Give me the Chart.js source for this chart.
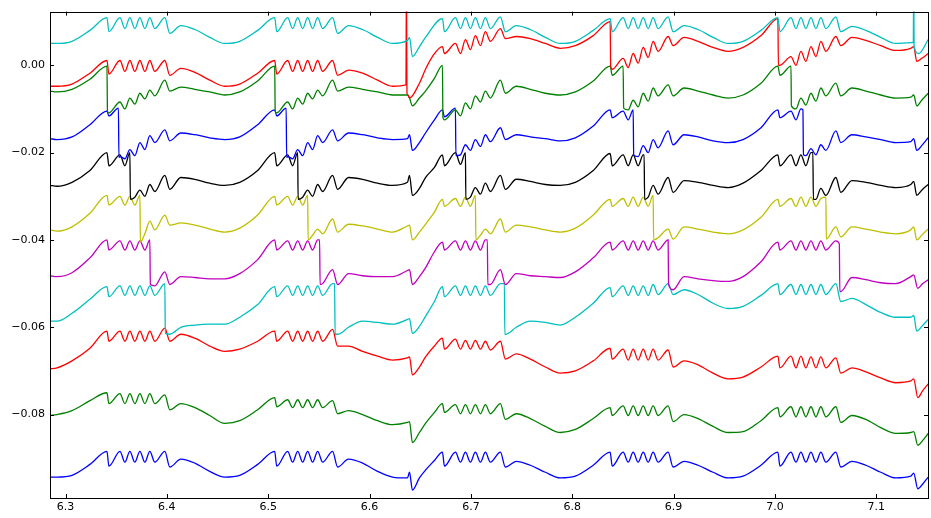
<!DOCTYPE html>
<html>
<head>
<meta charset="utf-8">
<script src="https://cdn.jsdelivr.net/npm/chart.js@4"></script>
<style>
  body { margin: 0; background: #fff; }
  canvas { display: block; }
</style>
</head>
<body>
<canvas id="chart" width="931" height="518"></canvas>
<script>
// tick labels
const xTicks = [6.3, 6.4, 6.5, 6.6, 6.7, 6.8, 6.9, 7.0, 7.1];
const yTicks = [0, -0.02, -0.04, -0.06, -0.08];

// shared sample times (same burst timing for every trace)
const xs = [
  6.2847, 6.2916, 6.3064, 6.3241,
  6.3409, 6.3428, 6.3537, 6.3586, 6.3635, 6.3684, 6.3734, 6.3783, 6.3832, 6.3881, 6.3980, 6.4029, 6.4138, 6.4276, 6.4423, 6.4571, 6.4719, 6.4896,
  6.5064, 6.5084, 6.5192, 6.5241, 6.5291, 6.5340, 6.5389, 6.5438, 6.5488, 6.5537, 6.5635, 6.5685, 6.5793, 6.5931, 6.6079, 6.6227, 6.6374, 6.6552,
  6.6719, 6.6739, 6.6847, 6.6897, 6.6946, 6.6995, 6.7044, 6.7094, 6.7143, 6.7192, 6.7291, 6.7340, 6.7448, 6.7586, 6.7734, 6.7882, 6.8030, 6.8207,
  6.8374, 6.8394, 6.8502, 6.8552, 6.8601, 6.8650, 6.8700, 6.8749, 6.8798, 6.8847, 6.8946, 6.8995, 6.9103, 6.9241, 6.9389, 6.9537, 6.9685, 6.9862,
  7.0029, 7.0049, 7.0158, 7.0207, 7.0256, 7.0305, 7.0355, 7.0404, 7.0453, 7.0502, 7.0601, 7.0650, 7.0759, 7.0897, 7.1044, 7.1192, 7.1340, 7.1512
];

// values of each trace at xs (top to bottom)
const cyanA = [
  0.0050, 0.0050, 0.0055, 0.0080,
  0.0109, 0.0077, 0.0109, 0.0084, 0.0109, 0.0084, 0.0109, 0.0084, 0.0109, 0.0084, 0.0109, 0.0073, 0.0091, 0.0082, 0.0064, 0.0050, 0.0055, 0.0080,
  0.0109, 0.0077, 0.0109, 0.0084, 0.0109, 0.0084, 0.0109, 0.0084, 0.0109, 0.0084, 0.0109, 0.0073, 0.0091, 0.0082, 0.0064, 0.0050, 0.0057, 0.0064,
  0.0107, 0.0077, 0.0109, 0.0084, 0.0109, 0.0084, 0.0109, 0.0084, 0.0109, 0.0084, 0.0111, 0.0077, 0.0091, 0.0082, 0.0064, 0.0050, 0.0055, 0.0080,
  0.0107, 0.0077, 0.0109, 0.0084, 0.0109, 0.0084, 0.0109, 0.0084, 0.0109, 0.0084, 0.0111, 0.0077, 0.0091, 0.0082, 0.0064, 0.0050, 0.0055, 0.0080,
  0.0109, 0.0077, 0.0109, 0.0084, 0.0109, 0.0084, 0.0109, 0.0084, 0.0109, 0.0084, 0.0111, 0.0077, 0.0089, 0.0080, 0.0064, 0.0050, 0.0052, 0.0059
];
const redA = [
  -0.0048, -0.0048, -0.0043, -0.0018,
  0.0011, -0.0020, 0.0011, -0.0014, 0.0011, -0.0014, 0.0011, -0.0014, 0.0011, -0.0014, 0.0011, -0.0023, -0.0007, -0.0016, -0.0034, -0.0048, -0.0043, -0.0018,
  0.0011, -0.0020, 0.0011, -0.0014, 0.0011, -0.0014, 0.0011, -0.0014, 0.0011, -0.0014, 0.0011, -0.0023, -0.0011, -0.0018, -0.0034, -0.0048, -0.0066, -0.0009,
  0.0043, 0.0027, 0.0050, 0.0027, 0.0059, 0.0036, 0.0068, 0.0045, 0.0077, 0.0055, 0.0084, 0.0061, 0.0066, 0.0061, 0.0050, 0.0039, 0.0045, 0.0068,
  0.0100, -0.0009, 0.0016, -0.0005, 0.0027, 0.0005, 0.0041, 0.0018, 0.0055, 0.0032, 0.0066, 0.0045, 0.0064, 0.0055, 0.0041, 0.0032, 0.0041, 0.0068,
  0.0107, 0.0000, 0.0020, 0.0000, 0.0032, 0.0009, 0.0043, 0.0020, 0.0055, 0.0032, 0.0066, 0.0045, 0.0064, 0.0057, 0.0045, 0.0034, 0.0039, 0.0027
];
const greenA = [
  -0.0059, -0.0061, -0.0055, -0.0032,
  -0.0002, -0.0109, -0.0084, -0.0100, -0.0075, -0.0089, -0.0064, -0.0077, -0.0057, -0.0070, -0.0034, -0.0059, -0.0050, -0.0055, -0.0061, -0.0068, -0.0061, -0.0036,
  -0.0002, -0.0109, -0.0084, -0.0100, -0.0075, -0.0089, -0.0064, -0.0077, -0.0057, -0.0070, -0.0034, -0.0059, -0.0050, -0.0055, -0.0061, -0.0068, -0.0068, -0.0059,
  0.0000, -0.0125, -0.0102, -0.0116, -0.0086, -0.0100, -0.0070, -0.0084, -0.0059, -0.0075, -0.0034, -0.0064, -0.0048, -0.0055, -0.0064, -0.0068, -0.0061, -0.0036,
  -0.0002, -0.0023, -0.0002, -0.0102, -0.0080, -0.0095, -0.0064, -0.0082, -0.0052, -0.0070, -0.0045, -0.0070, -0.0052, -0.0059, -0.0068, -0.0075, -0.0068, -0.0041,
  -0.0002, -0.0023, -0.0002, -0.0100, -0.0075, -0.0091, -0.0064, -0.0082, -0.0052, -0.0070, -0.0041, -0.0070, -0.0052, -0.0059, -0.0068, -0.0075, -0.0073, -0.0064
];
const blueA = [
  -0.0168, -0.0170, -0.0164, -0.0136,
  -0.0105, -0.0116, -0.0209, -0.0214, -0.0193, -0.0207, -0.0177, -0.0193, -0.0161, -0.0177, -0.0148, -0.0173, -0.0155, -0.0159, -0.0166, -0.0170, -0.0164, -0.0136,
  -0.0102, -0.0116, -0.0209, -0.0214, -0.0193, -0.0207, -0.0177, -0.0193, -0.0161, -0.0177, -0.0148, -0.0173, -0.0155, -0.0159, -0.0166, -0.0170, -0.0168, -0.0155,
  -0.0102, -0.0118, -0.0098, -0.0205, -0.0182, -0.0195, -0.0170, -0.0186, -0.0159, -0.0175, -0.0143, -0.0170, -0.0159, -0.0164, -0.0168, -0.0173, -0.0166, -0.0139,
  -0.0102, -0.0120, -0.0105, -0.0125, -0.0102, -0.0209, -0.0184, -0.0200, -0.0170, -0.0189, -0.0150, -0.0182, -0.0159, -0.0164, -0.0173, -0.0177, -0.0170, -0.0143,
  -0.0102, -0.0120, -0.0105, -0.0125, -0.0100, -0.0207, -0.0191, -0.0205, -0.0182, -0.0195, -0.0150, -0.0177, -0.0159, -0.0164, -0.0170, -0.0177, -0.0175, -0.0166
];
const blackA = [
  -0.0275, -0.0277, -0.0268, -0.0241,
  -0.0200, -0.0230, -0.0205, -0.0230, -0.0200, -0.0302, -0.0286, -0.0300, -0.0273, -0.0289, -0.0252, -0.0284, -0.0257, -0.0261, -0.0270, -0.0275, -0.0268, -0.0241,
  -0.0200, -0.0230, -0.0205, -0.0230, -0.0200, -0.0302, -0.0286, -0.0300, -0.0273, -0.0289, -0.0252, -0.0284, -0.0257, -0.0261, -0.0270, -0.0275, -0.0268, -0.0257,
  -0.0205, -0.0230, -0.0200, -0.0227, -0.0200, -0.0302, -0.0280, -0.0295, -0.0270, -0.0289, -0.0252, -0.0284, -0.0261, -0.0266, -0.0273, -0.0275, -0.0268, -0.0241,
  -0.0202, -0.0230, -0.0205, -0.0230, -0.0205, -0.0230, -0.0205, -0.0302, -0.0275, -0.0295, -0.0257, -0.0291, -0.0264, -0.0268, -0.0275, -0.0280, -0.0270, -0.0241,
  -0.0205, -0.0230, -0.0205, -0.0230, -0.0205, -0.0230, -0.0200, -0.0307, -0.0282, -0.0298, -0.0257, -0.0291, -0.0264, -0.0268, -0.0275, -0.0280, -0.0273, -0.0273
];
const yellowA = [
  -0.0377, -0.0380, -0.0370, -0.0339,
  -0.0298, -0.0320, -0.0300, -0.0320, -0.0300, -0.0320, -0.0298, -0.0386, -0.0357, -0.0377, -0.0343, -0.0366, -0.0361, -0.0366, -0.0375, -0.0382, -0.0373, -0.0343,
  -0.0300, -0.0320, -0.0300, -0.0320, -0.0300, -0.0320, -0.0298, -0.0389, -0.0375, -0.0386, -0.0352, -0.0382, -0.0364, -0.0368, -0.0375, -0.0382, -0.0368, -0.0364,
  -0.0307, -0.0323, -0.0305, -0.0323, -0.0302, -0.0323, -0.0298, -0.0389, -0.0375, -0.0386, -0.0352, -0.0382, -0.0366, -0.0370, -0.0377, -0.0382, -0.0373, -0.0343,
  -0.0307, -0.0323, -0.0305, -0.0323, -0.0302, -0.0323, -0.0302, -0.0323, -0.0298, -0.0395, -0.0375, -0.0398, -0.0370, -0.0375, -0.0382, -0.0386, -0.0377, -0.0348,
  -0.0307, -0.0323, -0.0305, -0.0323, -0.0302, -0.0323, -0.0302, -0.0323, -0.0305, -0.0302, -0.0370, -0.0393, -0.0370, -0.0375, -0.0382, -0.0386, -0.0377, -0.0375
];
const magentaA = [
  -0.0482, -0.0484, -0.0475, -0.0441,
  -0.0400, -0.0423, -0.0402, -0.0423, -0.0402, -0.0423, -0.0402, -0.0423, -0.0400, -0.0505, -0.0473, -0.0502, -0.0484, -0.0486, -0.0489, -0.0489, -0.0477, -0.0445,
  -0.0400, -0.0423, -0.0402, -0.0423, -0.0402, -0.0423, -0.0402, -0.0423, -0.0400, -0.0500, -0.0468, -0.0502, -0.0477, -0.0482, -0.0484, -0.0484, -0.0470, -0.0464,
  -0.0405, -0.0423, -0.0402, -0.0423, -0.0402, -0.0423, -0.0402, -0.0423, -0.0400, -0.0502, -0.0468, -0.0502, -0.0477, -0.0482, -0.0484, -0.0486, -0.0473, -0.0441,
  -0.0405, -0.0423, -0.0402, -0.0423, -0.0402, -0.0423, -0.0402, -0.0423, -0.0402, -0.0423, -0.0400, -0.0514, -0.0484, -0.0489, -0.0493, -0.0495, -0.0484, -0.0450,
  -0.0405, -0.0423, -0.0402, -0.0423, -0.0402, -0.0423, -0.0402, -0.0423, -0.0402, -0.0423, -0.0402, -0.0518, -0.0486, -0.0491, -0.0498, -0.0500, -0.0484, -0.0491
];
const cyanB = [
  -0.0586, -0.0586, -0.0568, -0.0536,
  -0.0507, -0.0530, -0.0505, -0.0527, -0.0505, -0.0527, -0.0505, -0.0527, -0.0505, -0.0527, -0.0500, -0.0616, -0.0600, -0.0595, -0.0593, -0.0593, -0.0577, -0.0548,
  -0.0507, -0.0530, -0.0505, -0.0527, -0.0505, -0.0527, -0.0505, -0.0527, -0.0505, -0.0527, -0.0500, -0.0616, -0.0600, -0.0586, -0.0589, -0.0593, -0.0582, -0.0575,
  -0.0507, -0.0530, -0.0505, -0.0527, -0.0505, -0.0527, -0.0505, -0.0527, -0.0505, -0.0527, -0.0500, -0.0616, -0.0600, -0.0586, -0.0589, -0.0595, -0.0577, -0.0545,
  -0.0509, -0.0530, -0.0505, -0.0527, -0.0505, -0.0527, -0.0505, -0.0527, -0.0502, -0.0525, -0.0500, -0.0525, -0.0514, -0.0525, -0.0545, -0.0557, -0.0552, -0.0527,
  -0.0500, -0.0525, -0.0502, -0.0525, -0.0502, -0.0525, -0.0502, -0.0525, -0.0502, -0.0525, -0.0500, -0.0541, -0.0534, -0.0548, -0.0566, -0.0577, -0.0577, -0.0582
];
const redB = [
  -0.0695, -0.0693, -0.0677, -0.0648,
  -0.0609, -0.0632, -0.0609, -0.0632, -0.0609, -0.0632, -0.0609, -0.0632, -0.0609, -0.0632, -0.0602, -0.0632, -0.0616, -0.0625, -0.0643, -0.0655, -0.0650, -0.0632,
  -0.0609, -0.0632, -0.0609, -0.0632, -0.0609, -0.0632, -0.0609, -0.0632, -0.0609, -0.0632, -0.0605, -0.0643, -0.0643, -0.0655, -0.0666, -0.0675, -0.0670, -0.0668,
  -0.0625, -0.0650, -0.0627, -0.0650, -0.0630, -0.0650, -0.0630, -0.0650, -0.0632, -0.0652, -0.0632, -0.0673, -0.0661, -0.0673, -0.0691, -0.0705, -0.0700, -0.0677,
  -0.0648, -0.0673, -0.0650, -0.0675, -0.0650, -0.0675, -0.0650, -0.0675, -0.0650, -0.0675, -0.0652, -0.0691, -0.0677, -0.0686, -0.0705, -0.0718, -0.0714, -0.0691,
  -0.0666, -0.0693, -0.0666, -0.0693, -0.0666, -0.0693, -0.0668, -0.0693, -0.0668, -0.0693, -0.0670, -0.0705, -0.0693, -0.0702, -0.0716, -0.0727, -0.0723, -0.0730
];
const greenB = [
  -0.0802, -0.0800, -0.0791, -0.0768,
  -0.0750, -0.0775, -0.0752, -0.0775, -0.0752, -0.0775, -0.0752, -0.0775, -0.0752, -0.0775, -0.0755, -0.0789, -0.0775, -0.0784, -0.0802, -0.0820, -0.0814, -0.0789,
  -0.0761, -0.0782, -0.0766, -0.0784, -0.0766, -0.0784, -0.0766, -0.0784, -0.0766, -0.0784, -0.0768, -0.0798, -0.0791, -0.0800, -0.0814, -0.0823, -0.0818, -0.0820,
  -0.0775, -0.0795, -0.0777, -0.0798, -0.0777, -0.0798, -0.0777, -0.0798, -0.0777, -0.0798, -0.0775, -0.0811, -0.0798, -0.0809, -0.0827, -0.0841, -0.0834, -0.0809,
  -0.0784, -0.0802, -0.0780, -0.0802, -0.0780, -0.0802, -0.0780, -0.0802, -0.0780, -0.0802, -0.0780, -0.0816, -0.0800, -0.0809, -0.0827, -0.0841, -0.0839, -0.0814,
  -0.0784, -0.0805, -0.0782, -0.0805, -0.0782, -0.0805, -0.0782, -0.0805, -0.0782, -0.0805, -0.0782, -0.0818, -0.0802, -0.0811, -0.0830, -0.0843, -0.0841, -0.0843
];
const blueB = [
  -0.0943, -0.0943, -0.0939, -0.0914,
  -0.0884, -0.0918, -0.0884, -0.0909, -0.0884, -0.0909, -0.0884, -0.0909, -0.0884, -0.0909, -0.0884, -0.0920, -0.0902, -0.0911, -0.0930, -0.0943, -0.0939, -0.0914,
  -0.0884, -0.0918, -0.0884, -0.0909, -0.0884, -0.0909, -0.0884, -0.0909, -0.0884, -0.0909, -0.0884, -0.0920, -0.0902, -0.0911, -0.0930, -0.0943, -0.0945, -0.0927,
  -0.0886, -0.0918, -0.0886, -0.0909, -0.0886, -0.0909, -0.0886, -0.0909, -0.0886, -0.0909, -0.0886, -0.0920, -0.0907, -0.0916, -0.0932, -0.0945, -0.0941, -0.0916,
  -0.0886, -0.0918, -0.0886, -0.0909, -0.0886, -0.0909, -0.0886, -0.0909, -0.0886, -0.0909, -0.0886, -0.0920, -0.0907, -0.0916, -0.0932, -0.0945, -0.0941, -0.0916,
  -0.0886, -0.0918, -0.0886, -0.0909, -0.0886, -0.0909, -0.0886, -0.0909, -0.0886, -0.0909, -0.0886, -0.0920, -0.0907, -0.0916, -0.0932, -0.0945, -0.0941, -0.0943
];

// extra points per trace: jumps, spikes and the dips at 6.64 / 7.14
const cyanAExtra = [[6.6394, 0.0064], [6.6423, 0.0020], [6.6483, 0.0039], [7.1365, 0.0052], [7.1369, 0.02], [7.1373, 0.0043], [7.1419, 0.0027]];
const redAExtra = [[6.6359, -0.0045], [6.6364, 0.02], [6.6369, -0.0064], [6.6394, -0.0075], [6.6492, -0.0041], [6.6620, 0.0020],
  [6.8379, -0.0002], [7.0034, 0.0000], [7.1369, 0.0043], [7.1399, 0.0009], [7.1448, 0.0016]];
const greenAExtra = [[6.3414, -0.0105], [6.5069, -0.0105], [6.6394, -0.0075], [6.6423, -0.0093], [6.6492, -0.0075], [6.6640, -0.0030],
  [6.6724, -0.0120], [6.8507, -0.0098], [7.0162, -0.0093], [7.1369, -0.0068], [7.1399, -0.0093], [7.1448, -0.0080]];
const blueAExtra = [[6.3522, -0.0098], [6.3527, -0.0211], [6.5177, -0.0098], [6.5182, -0.0211], [6.6394, -0.0159], [6.6423, -0.0195],
  [6.6492, -0.0177], [6.6640, -0.0125], [6.6852, -0.0207], [6.8606, -0.0205], [7.0276, -0.0102], [7.0281, -0.0205],
  [7.1369, -0.0168], [7.1399, -0.0195], [7.1448, -0.0184]];
const blackAExtra = [[6.3640, -0.0307], [6.5295, -0.0307], [6.6394, -0.0252], [6.6423, -0.0298], [6.6492, -0.0282], [6.6640, -0.0234],
  [6.6950, -0.0307], [6.8709, -0.0205], [6.8714, -0.0307], [7.0374, -0.0200], [7.0379, -0.0307],
  [7.1369, -0.0266], [7.1399, -0.0298], [7.1448, -0.0286]];
const yellowAExtra = [[6.3739, -0.0405], [6.5394, -0.0400], [6.6394, -0.0366], [6.6423, -0.0400], [6.6492, -0.0382], [6.6640, -0.0336],
  [6.7049, -0.0400], [6.8803, -0.0400], [7.0507, -0.0398], [7.1369, -0.0370], [7.1399, -0.0400], [7.1448, -0.0389]];
const magentaAExtra = [[6.3837, -0.0502], [6.5507, -0.0400], [6.5512, -0.0502], [6.6394, -0.0468], [6.6423, -0.0502], [6.6492, -0.0484],
  [6.6640, -0.0427], [6.7162, -0.0400], [6.7167, -0.0502], [6.8950, -0.0502], [7.0635, -0.0409], [7.0640, -0.0518],
  [7.1369, -0.0480], [7.1409, -0.0511], [7.1458, -0.0500]];
const cyanBExtra = [[6.3985, -0.0614], [6.5655, -0.0500], [6.5660, -0.0616], [6.6394, -0.0580], [6.6423, -0.0614], [6.6492, -0.0598],
  [6.6640, -0.0541], [6.7330, -0.0500], [6.7335, -0.0616], [7.1369, -0.0573], [7.1399, -0.0609], [7.1448, -0.0598]];
const redBExtra = [[6.6394, -0.0668], [6.6423, -0.0709], [6.6492, -0.0691], [6.6640, -0.0643], [7.1369, -0.0718], [7.1409, -0.0761], [7.1458, -0.0745]];
const greenBExtra = [[6.6394, -0.0816], [6.6423, -0.0864], [6.6492, -0.0841], [6.6640, -0.0795], [7.1369, -0.0839], [7.1409, -0.0870], [7.1458, -0.0859]];
const blueBExtra = [[6.6394, -0.0932], [6.6423, -0.0973], [6.6492, -0.0945], [6.6640, -0.0905], [7.1369, -0.0934], [7.1409, -0.0970], [7.1458, -0.0959]];

const traces = [
  { ys: cyanA, extra: cyanAExtra, color: '#00bfbf' },
  { ys: redA, extra: redAExtra, color: '#ff0000' },
  { ys: greenA, extra: greenAExtra, color: '#008000' },
  { ys: blueA, extra: blueAExtra, color: '#0000ff' },
  { ys: blackA, extra: blackAExtra, color: '#000000' },
  { ys: yellowA, extra: yellowAExtra, color: '#bfbf00' },
  { ys: magentaA, extra: magentaAExtra, color: '#bf00bf' },
  { ys: cyanB, extra: cyanBExtra, color: '#00bfbf' },
  { ys: redB, extra: redBExtra, color: '#ff0000' },
  { ys: greenB, extra: greenBExtra, color: '#008000' },
  { ys: blueB, extra: blueBExtra, color: '#0000ff' }
];

function buildPoints(ys, extra) {
  const pts = xs.map((x, i) => ({ x: x, y: ys[i] }));
  extra.forEach(p => pts.push({ x: p[0], y: p[1] }));
  pts.sort((a, b) => a.x - b.x);
  return pts;
}

// box round the plot plus small inward ticks, like the original
const frame = {
  id: 'frame',
  afterDatasetsDraw(chart) {
    const { ctx, chartArea: a, scales } = chart;
    ctx.save();
    ctx.strokeStyle = '#000';
    ctx.lineWidth = 1;
    ctx.strokeRect(Math.round(a.left) + 0.5, Math.round(a.top) + 0.5, Math.round(a.right - a.left), Math.round(a.bottom - a.top));
    ctx.beginPath();
    xTicks.forEach(v => {
      const px = Math.round(scales.x.getPixelForValue(v)) + 0.5;
      ctx.moveTo(px, a.bottom); ctx.lineTo(px, a.bottom - 4);
      ctx.moveTo(px, a.top); ctx.lineTo(px, a.top + 4);
    });
    yTicks.forEach(v => {
      const py = Math.round(scales.y.getPixelForValue(v)) + 0.5;
      ctx.moveTo(a.left, py); ctx.lineTo(a.left + 4, py);
      ctx.moveTo(a.right, py); ctx.lineTo(a.right - 4, py);
    });
    ctx.stroke();
    ctx.restore();
  }
};

new Chart(document.getElementById('chart'), {
  type: 'line',
  data: {
    datasets: traces.map(t => ({
      data: buildPoints(t.ys, t.extra),
      borderColor: t.color,
      borderWidth: 1.3,
      pointRadius: 0,
      cubicInterpolationMode: 'monotone',
      fill: false
    }))
  },
  options: {
    animation: false,
    responsive: false,
    devicePixelRatio: 1,
    layout: { padding: { top: 8, right: 3, left: 0, bottom: 0 } },
    plugins: { legend: { display: false }, tooltip: { enabled: false } },
    scales: {
      x: {
        type: 'linear',
        min: 6.2847,
        max: 7.151,
        afterBuildTicks: axis => { axis.ticks = xTicks.map(v => ({ value: v })); },
        afterFit: axis => { axis.height = 20; },
        grid: { display: false, drawTicks: false },
        border: { display: false },
        ticks: {
          color: '#000',
          padding: 3,
          maxRotation: 0,
          font: { family: 'DejaVu Sans', size: 11 },
          callback: v => v.toFixed(1)
        }
      },
      y: {
        min: -0.0991,
        max: 0.0123,
        afterBuildTicks: axis => { axis.ticks = yTicks.map(v => ({ value: v })); },
        afterFit: axis => { axis.width = 50; },
        grid: { display: false, drawTicks: false },
        border: { display: false },
        ticks: {
          color: '#000',
          padding: 5,
          font: { family: 'DejaVu Sans', size: 11 },
          callback: v => v === 0 ? '0.00' : '\u2212' + Math.abs(v).toFixed(2)
        }
      }
    }
  },
  plugins: [frame]
});
</script>
</body>
</html>
